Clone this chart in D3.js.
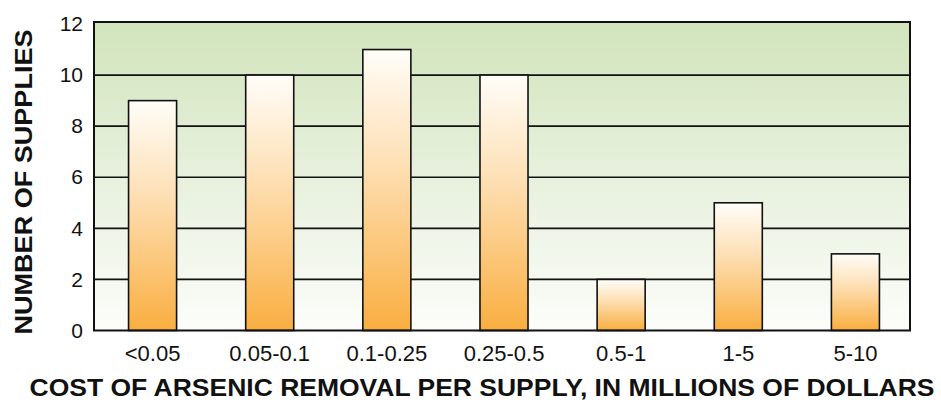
<!DOCTYPE html>
<html lang="en">
  <head>
    <meta charset="utf-8">
    <title>Cost of arsenic removal</title>
    <script type="text/javascript" src="https://cdn.jsdelivr.net/npm/d3@7"></script>
    <style type="text/css">
      body { margin: 0; background: #fff; }
      text { font-family: "Liberation Sans", Arial, sans-serif; }
    </style>
  </head>
  <body>
    <script type="text/javascript">

      // Data
      var categories = ["<0.05", "0.05-0.1", "0.1-0.25", "0.25-0.5", "0.5-1", "1-5", "5-10"];
      var supplies = [9, 10, 11, 10, 2, 5, 3];
      var yTicks = [0, 2, 4, 6, 8, 10, 12];

      var w = 941;
      var h = 406;
      // plot box ("top" is taken by window.top, so use other names)
      var plotL = 94, plotR = 910, plotT = 22, plotB = 330.5;

      var svg = d3.select("body")
        .append("svg")
        .attr("width", w)
        .attr("height", h);

      var defs = svg.append("defs");

      // green background, fades to white at the bottom
      var bg = defs.append("linearGradient")
        .attr("id", "bgGrad")
        .attr("x1", 0).attr("y1", 0).attr("x2", 0).attr("y2", 1);
      bg.append("stop").attr("offset", "0%").attr("stop-color", "#d1e4bb");
      bg.append("stop").attr("offset", "45%").attr("stop-color", "#e5efda");
      bg.append("stop").attr("offset", "100%").attr("stop-color", "#fcfdfa");

      // bars: white on top, orange at the bottom
      var bar = defs.append("linearGradient")
        .attr("id", "barGrad")
        .attr("x1", 0).attr("y1", 0).attr("x2", 0).attr("y2", 1);
      bar.append("stop").attr("offset", "0%").attr("stop-color", "#fffdf9");
      bar.append("stop").attr("offset", "40%").attr("stop-color", "#fde0b6");
      bar.append("stop").attr("offset", "100%").attr("stop-color", "#f9ae40");

      // bands run a little past the right edge of the frame, as in the original
      var xScale = d3.scaleBand()
        .domain(categories)
        .range([plotL, plotR + 4])
        .paddingInner(0.59)
        .paddingOuter(0.295);

      var yScale = d3.scaleLinear()
        .domain([0, 12])
        .range([plotB, 24]);

      // plot background
      svg.append("rect")
        .attr("x", plotL)
        .attr("y", plotT)
        .attr("width", plotR - plotL)
        .attr("height", plotB - plotT)
        .attr("fill", "url(#bgGrad)");

      // gridlines
      svg.append("g")
        .selectAll("line")
        .data(yTicks.filter(function(d) { return d > 0 && d < 12; }))
        .enter()
        .append("line")
        .attr("x1", plotL)
        .attr("x2", plotR)
        .attr("y1", function(d) { return yScale(d); })
        .attr("y2", function(d) { return yScale(d); })
        .attr("stroke", "#111")
        .attr("stroke-width", 1.6);

      // bars
      svg.append("g")
        .selectAll("rect")
        .data(supplies)
        .enter()
        .append("rect")
        .attr("x", function(d, i) { return xScale(categories[i]); })
        .attr("y", function(d) { return yScale(d); })
        .attr("width", xScale.bandwidth())
        .attr("height", function(d) { return yScale(0) - yScale(d); })
        .attr("fill", "url(#barGrad)")
        .attr("stroke", "#111")
        .attr("stroke-width", 1.6);

      // frame
      svg.append("rect")
        .attr("x", plotL)
        .attr("y", plotT)
        .attr("width", plotR - plotL)
        .attr("height", plotB - plotT)
        .attr("fill", "none")
        .attr("stroke", "#111")
        .attr("stroke-width", 2);

      // y axis
      var yAxis = d3.axisLeft(yScale)
        .tickValues(yTicks)
        .tickSize(0)
        .tickPadding(11);

      var gy = svg.append("g")
        .attr("transform", "translate(" + plotL + ",0)")
        .call(yAxis);
      gy.select(".domain").remove();
      gy.selectAll("text")
        .attr("font-size", "21px")
        .attr("font-family", "Liberation Sans, Arial, sans-serif")
        .attr("fill", "#111");

      // x axis
      var xAxis = d3.axisBottom(xScale)
        .tickSize(0)
        .tickPadding(15);

      var gx = svg.append("g")
        .attr("transform", "translate(0," + plotB + ")")
        .call(xAxis);
      gx.select(".domain").remove();
      gx.selectAll("text")
        .attr("font-size", "22px")
        .attr("font-family", "Liberation Sans, Arial, sans-serif")
        .attr("fill", "#111");

      // axis titles
      svg.append("text")
        .attr("x", 482)
        .attr("y", 396)
        .attr("text-anchor", "middle")
        .attr("font-size", "24px")
        .attr("font-weight", "bold")
        .attr("textLength", 905)
        .attr("lengthAdjust", "spacingAndGlyphs")
        .attr("fill", "#111")
        .text("COST OF ARSENIC REMOVAL PER SUPPLY, IN MILLIONS OF DOLLARS");

      svg.append("text")
        .attr("transform", "translate(32,182) rotate(-90)")
        .attr("text-anchor", "middle")
        .attr("font-size", "24px")
        .attr("font-weight", "bold")
        .attr("textLength", 305)
        .attr("lengthAdjust", "spacingAndGlyphs")
        .attr("fill", "#111")
        .text("NUMBER OF SUPPLIES");

    </script>
  </body>
</html>
